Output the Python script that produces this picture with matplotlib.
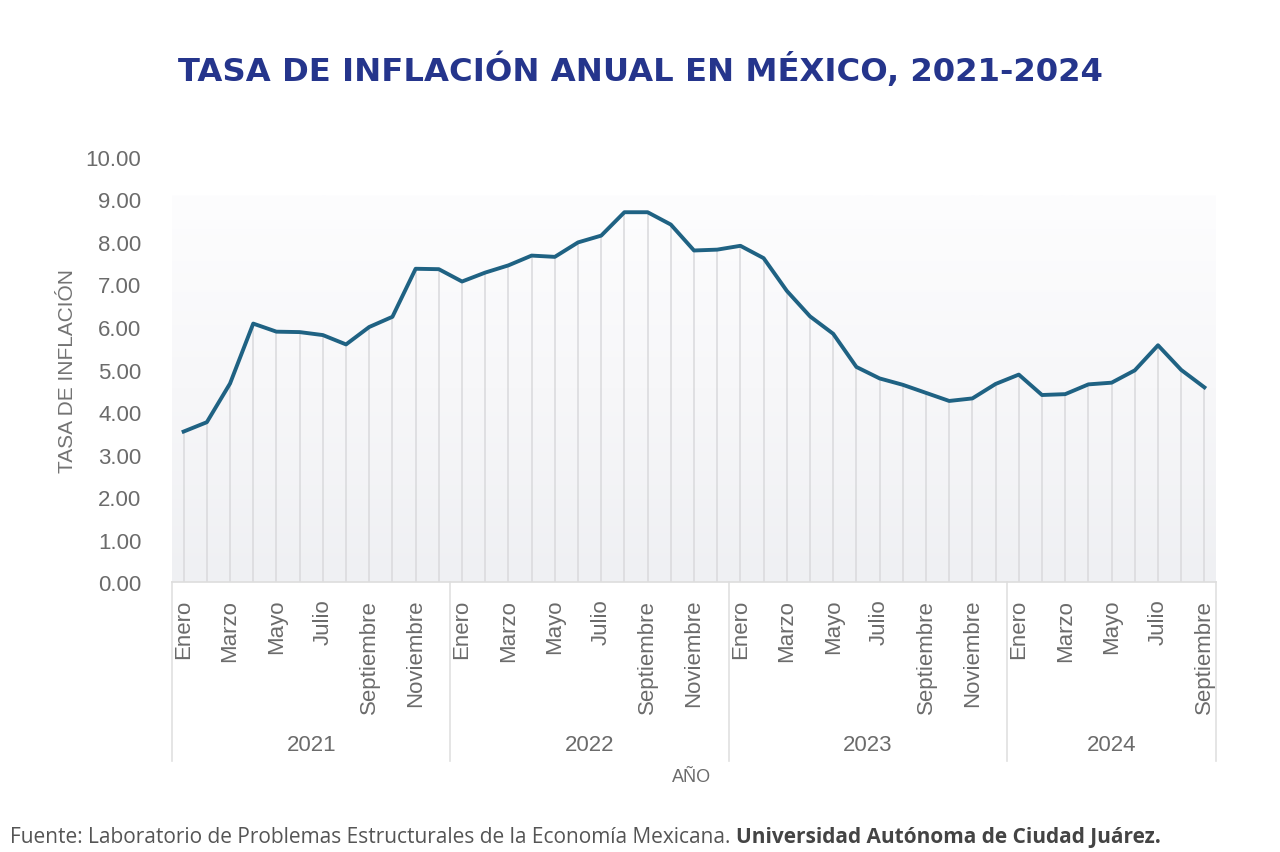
import matplotlib
matplotlib.use('Agg')
import matplotlib.pyplot as plt
import matplotlib.transforms as mtransforms
from matplotlib.colors import LinearSegmentedColormap
import numpy as np

plt.rcParams['font.family'] = ['Liberation Sans', 'DejaVu Sans']

# ---------------- datos ----------------
years = ['2021', '2022', '2023', '2024']
months = ['Enero', 'Febrero', 'Marzo', 'Abril', 'Mayo', 'Junio', 'Julio',
          'Agosto', 'Septiembre', 'Octubre', 'Noviembre', 'Diciembre']
inf_2021 = [3.54, 3.76, 4.67, 6.08, 5.89, 5.88, 5.81, 5.59, 6.00, 6.24, 7.37, 7.36]
inf_2022 = [7.07, 7.28, 7.45, 7.68, 7.65, 7.99, 8.15, 8.70, 8.70, 8.41, 7.80, 7.82]
inf_2023 = [7.91, 7.62, 6.85, 6.25, 5.84, 5.06, 4.79, 4.64, 4.45, 4.26, 4.32, 4.66]
inf_2024 = [4.88, 4.40, 4.42, 4.65, 4.69, 4.98, 5.57, 4.99, 4.58]
yticks = [0, 1, 2, 3, 4, 5, 6, 7, 8, 9, 10]

series = [inf_2021, inf_2022, inf_2023, inf_2024]
values = [v for s in series for v in s]
labels = [months[i] for s in series for i in range(len(s))]
x = np.arange(len(values))

# ---------------- figura ----------------
fig = plt.figure(figsize=(12.8, 8.53), dpi=100)
fig.patch.set_facecolor('white')
ax = fig.add_axes([0.1344, 0.3165, 0.8156, 0.4983])
ax.set_xlim(-0.5, len(values) - 0.5)
ax.set_ylim(0, 10)

# fondo degradado
grad = np.linspace(0, 1, 200).reshape(-1, 1)
cmap = LinearSegmentedColormap.from_list('bg', ['#eff0f3', '#f7f7f9', '#fdfdfe'])
ax.imshow(grad, aspect='auto', cmap=cmap, origin='lower',
          extent=(-0.5, len(values) - 0.5, 0, 9.1), zorder=0)

# lineas verticales
ax.vlines(x, 0, values, color='#d9d9dc', lw=1.1, zorder=1)
ax.plot(x, values, color='#1f6283', lw=2.8, solid_joinstyle='round', zorder=3)

for side in ['top', 'right', 'left']:
    ax.spines[side].set_visible(False)
ax.spines['bottom'].set_color('#dddddd')
ax.spines['bottom'].set_linewidth(1.2)

ax.set_yticks(yticks)
ax.set_yticklabels([f'{v:.2f}' for v in yticks])
ax.tick_params(axis='y', length=0, pad=22, labelsize=16, labelcolor='#6b6b6b')
ax.set_ylabel('TASA DE INFLACIÓN', fontsize=15, color='#737373', labelpad=6)

ax.set_xticks(x)
ax.set_xticklabels([lab if i % 2 == 0 else '' for i, lab in enumerate(labels)],
                   rotation=90, va='top', ha='center')
ax.tick_params(axis='x', length=0, pad=12, labelsize=16, labelcolor='#6b6b6b')

# separadores de año y etiquetas
trans = mtransforms.blended_transform_factory(ax.transData, ax.transAxes)
start = 0
for yr, s in zip(years, series):
    ax.plot([start - 0.5, start - 0.5], [0, -0.42], transform=trans,
            color='#e0e0e0', lw=1.2, clip_on=False)
    ax.text(start + (len(s) - 1) / 2, -0.383, yr, transform=trans,
            ha='center', va='center', fontsize=16, color='#6b6b6b')
    start += len(s)
ax.plot([start - 0.5, start - 0.5], [0, -0.42], transform=trans,
        color='#e0e0e0', lw=1.2, clip_on=False)

fig.text(692 / 1280, 1 - 777 / 853, 'AÑO', ha='center', va='center',
         fontsize=13, color='#6b6b6b')

# titulo
fig.text(0.5, 1 - 70 / 853, 'TASA DE INFLACIÓN ANUAL EN MÉXICO, 2021-2024',
         ha='center', va='center', fontsize=23.2, fontweight='heavy',
         color='#25358c', family=['DejaVu Sans'])

# fuente
t1 = fig.text(10 / 1280, 1 - 838 / 853,
              'Fuente: Laboratorio de Problemas Estructurales de la Economía Mexicana. ',
              ha='left', va='center', fontsize=15, color='#555555',
              family=['Open Sans', 'DejaVu Sans'])
fig.canvas.draw()
bb = t1.get_window_extent()
fig.text(bb.x1 / fig.bbox.width, 1 - 838 / 853,
         'Universidad Autónoma de Ciudad Juárez.',
         ha='left', va='center', fontsize=15, fontweight='bold', color='#444444',
         family=['Open Sans', 'DejaVu Sans'])

fig.savefig('out.png', dpi=100, facecolor='white')
